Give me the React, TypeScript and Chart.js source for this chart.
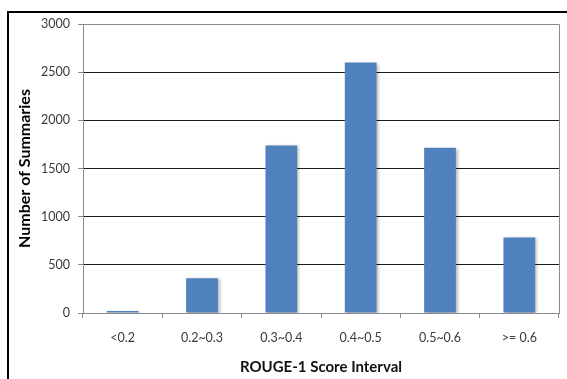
import React, { useEffect, useRef } from "react";
import { Chart, registerables } from "chart.js";

Chart.register(...registerables);

const categories = ["<0.2", "0.2~0.3", "0.3~0.4", "0.4~0.5", "0.5~0.6", ">= 0.6"];
const summaryCounts = [20, 362, 1740, 2600, 1715, 785];
const yTicks = [0, 500, 1000, 1500, 2000, 2500, 3000];

const FONT = "Lato, 'Open Sans', sans-serif";
const AXIS_GRAY = "#8a8a8a";

// soft drop shadow behind the bars
const barShadow = {
  id: "barShadow",
  beforeDatasetsDraw(chart: any) {
    const ctx = chart.ctx;
    ctx.save();
    ctx.shadowColor = "rgba(0,0,0,0.28)";
    ctx.shadowBlur = 3;
    ctx.shadowOffsetX = 2;
    ctx.shadowOffsetY = 1;
  },
  afterDatasetsDraw(chart: any) {
    chart.ctx.restore();
  },
};

// gray outline on the top and right side of the plot area
const plotBorder = {
  id: "plotBorder",
  afterDraw(chart: any) {
    const { ctx, chartArea } = chart;
    ctx.save();
    ctx.strokeStyle = AXIS_GRAY;
    ctx.lineWidth = 1;
    ctx.beginPath();
    ctx.moveTo(chartArea.left, chartArea.top + 0.5);
    ctx.lineTo(chartArea.right + 0.5, chartArea.top + 0.5);
    ctx.lineTo(chartArea.right + 0.5, chartArea.bottom);
    ctx.stroke();
    ctx.restore();
  },
};

export default function App() {
  const canvasRef = useRef<HTMLCanvasElement>(null);

  useEffect(() => {
    if (!canvasRef.current) return;
    const chart = new Chart(canvasRef.current, {
      type: "bar",
      data: {
        labels: categories,
        datasets: [
          {
            data: summaryCounts,
            backgroundColor: "#4f81bd",
            borderWidth: 0,
            barPercentage: 0.4,
            categoryPercentage: 1,
          },
        ],
      },
      options: {
        animation: false,
        responsive: false,
        maintainAspectRatio: false,
        layout: { padding: { left: 10, right: 8, top: 24, bottom: 0 } },
        plugins: { legend: { display: false }, tooltip: { enabled: false } },
        scales: {
          x: {
            grid: {
              offset: true,
              drawOnChartArea: false,
              drawTicks: true,
              tickLength: 5,
              tickColor: AXIS_GRAY,
            },
            border: { color: AXIS_GRAY, width: 1 },
            ticks: {
              color: "#3a3a3a",
              font: { family: FONT, size: 12.5 },
              padding: 12,
              maxRotation: 0,
            },
            title: {
              display: true,
              text: "ROUGE-1 Score Interval",
              color: "#111",
              font: { family: FONT, size: 15, weight: "bold" },
              padding: { top: 0, bottom: 3 },
            },
            afterFit: (scale: any) => {
              scale.height = 379 - 313;
            },
          },
          y: {
            min: 0,
            max: 3000,
            afterBuildTicks: (scale: any) => {
              scale.ticks = yTicks.map((v) => ({ value: v }));
            },
            grid: {
              color: (c: any) =>
                c.tick && (c.tick.value === 0 || c.tick.value === 3000) ? AXIS_GRAY : "#1a1a1a",
              tickColor: AXIS_GRAY,
              tickLength: 5,
              lineWidth: 1,
            },
            border: { color: AXIS_GRAY, width: 1 },
            ticks: {
              color: "#3a3a3a",
              font: { family: FONT, size: 12.5 },
              padding: 8,
              callback: (v: any) => String(v),
            },
            title: {
              display: true,
              text: "Number of Summaries",
              color: "#000",
              font: { family: FONT, size: 16, weight: "bold" },
              padding: { top: 5, bottom: 0 },
            },
            afterFit: (scale: any) => {
              scale.width = 83 - 10;
            },
          },
        },
      },
      plugins: [barShadow, plotBorder],
    });
    return () => chart.destroy();
  }, []);

  return (
    <div
      style={{
        position: "fixed",
        left: 0,
        top: 0,
        width: 567,
        height: 379,
        overflow: "hidden",
        background: "#fff",
      }}
    >
      <div
        style={{
          position: "absolute",
          left: 7,
          top: 11,
          width: 600,
          height: 600,
          border: "2px solid #000",
          boxSizing: "border-box",
        }}
      />
      <canvas
        ref={canvasRef}
        width={567}
        height={379}
        style={{ position: "absolute", left: 0, top: 0, width: 567, height: 379 }}
      />
    </div>
  );
}
